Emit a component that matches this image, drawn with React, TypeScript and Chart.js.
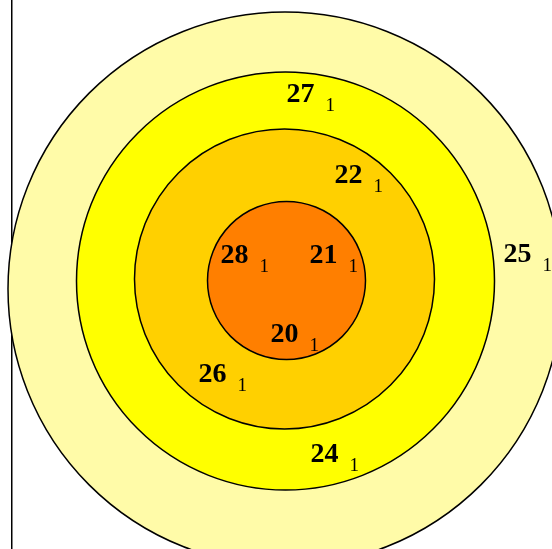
import React, { useEffect, useRef } from "react";
import { Chart, registerables } from "chart.js";

Chart.register(...registerables);

// Nested circles (outer to inner): centre and radius in data units
const circleX = [-0.5, 0, -1, 1];
const circleY = [-7, 1, 3, 1.5];
const circleR = [277, 209, 150, 79];
const circleColors = ["#FFFBA8", "#FFFF00", "#FFD000", "#FF7F00"];

// Region labels: name, count and anchor position in data units
const labelNames = ["27", "22", "25", "28", "21", "20", "26", "24"];
const labelCounts = [1, 1, 1, 1, 1, 1, 1, 1];
const labelX = [15, 63, 232, -51, 38, -1, -73, 39];
const labelY = [180, 99, 20, 19, 19, -60, -100, -180];

const X_MIN = -273.5;
const X_MAX = 266.5;
const Y_MIN = -267;
const Y_MAX = 282;

const labelPlugin = {
  id: "regionLabels",
  afterDatasetsDraw(chart: any) {
    const meta = chart.getDatasetMeta(1);
    const ctx = chart.ctx;
    ctx.save();
    ctx.fillStyle = "#000";
    ctx.textBaseline = "alphabetic";
    ctx.textAlign = "left";
    meta.data.forEach((el: any, i: number) => {
      const name = labelNames[i];
      ctx.font = "bold 28px 'Liberation Serif', 'DejaVu Serif', serif";
      const w = ctx.measureText(name).width;
      ctx.fillText(name, el.x - w / 2, el.y);
      ctx.font = "19px 'Liberation Serif', 'DejaVu Serif', serif";
      ctx.fillText(String(labelCounts[i]), el.x + w / 2 + 11, el.y + 9);
    });
    ctx.restore();
  },
};

export default function App() {
  const ref = useRef<HTMLCanvasElement | null>(null);
  useEffect(() => {
    if (!ref.current) return;
    const chart = new Chart(ref.current, {
      type: "scatter",
      data: {
        datasets: [
          {
            label: "circles",
            data: circleX.map((x, i) => ({ x, y: circleY[i] })),
            backgroundColor: circleColors,
            borderColor: "#000",
            borderWidth: 1.5,
            pointRadius: 0,
            pointHoverRadius: 0,
            clip: false,
            order: 2,
          } as any,
          {
            label: "labels",
            data: labelX.map((x, i) => ({ x, y: labelY[i] })),
            pointRadius: 0,
            pointHoverRadius: 0,
            borderWidth: 0,
            clip: false,
            order: 1,
          } as any,
        ],
      },
      options: {
        animation: false,
        responsive: false,
        events: [],
        layout: { autoPadding: false, padding: { left: 12, right: 0, top: 0, bottom: 0 } },
        plugins: {
          legend: { display: false },
          tooltip: { enabled: false },
        },
        scales: {
          x: { type: "linear", min: X_MIN, max: X_MAX, display: false },
          y: {
            type: "linear",
            min: Y_MIN,
            max: Y_MAX,
            display: true,
            ticks: { display: false },
            grid: { display: false, drawTicks: false },
            border: { display: true, color: "#000", width: 1.5 },
          },
        },
      } as any,
      plugins: [labelPlugin],
    });
    // circle radii converted from data units to pixels through the x scale
    const xs: any = chart.scales.x;
    (chart.data.datasets[0] as any).pointRadius = circleR.map(
      (r) => xs.getPixelForValue(r) - xs.getPixelForValue(0)
    );
    chart.update();
    return () => chart.destroy();
  }, []);
  return (
    <div
      style={{
        position: "fixed",
        left: 0,
        top: 0,
        width: 552,
        height: 549,
        overflow: "hidden",
        background: "#fff",
      }}
    >
      <canvas ref={ref} width={552} height={549} style={{ width: 552, height: 549, display: "block" }} />
    </div>
  );
}
